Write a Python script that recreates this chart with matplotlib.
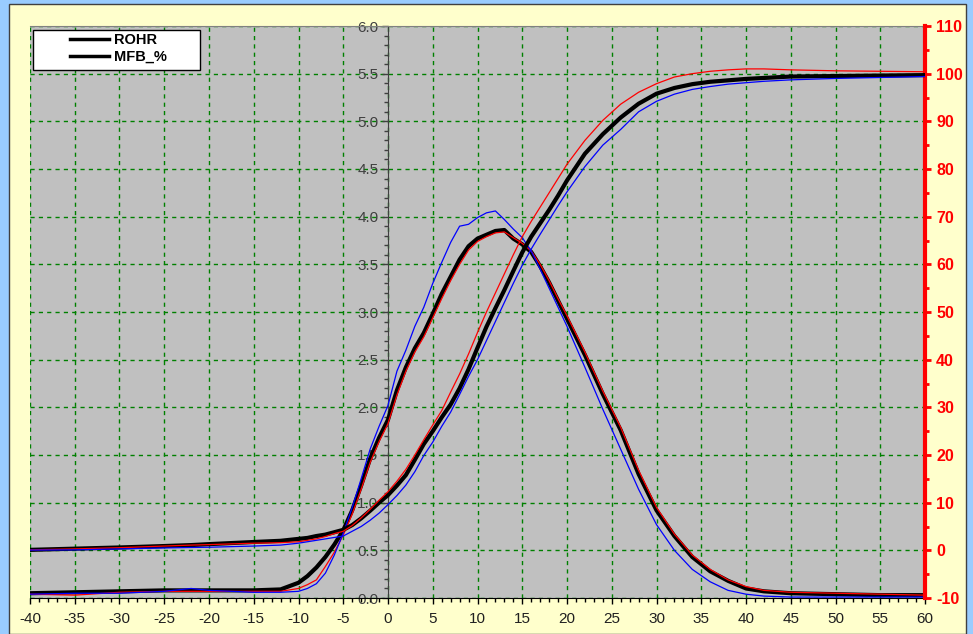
import matplotlib
matplotlib.use('Agg')
import matplotlib.pyplot as plt
from matplotlib.lines import Line2D
from matplotlib.patches import Rectangle
from matplotlib.ticker import MultipleLocator, FormatStrFormatter

plt.rcParams['font.family'] = ['Liberation Sans', 'DejaVu Sans']
plt.rcParams['axes.unicode_minus'] = False

# crank angle [deg]
angle = [-40, -35, -30, -25, -22, -20, -15, -12, -10, -9, -8, -7, -6, -5, -4, -3, -2, -1,
         0, 1, 2, 3, 4, 5, 6, 7, 8, 9, 10, 11, 12, 13, 14, 15, 16, 17, 18, 19, 20,
         22, 24, 26, 28, 30, 32, 34, 36, 38, 40, 42, 45, 50, 55, 60]

# rate of heat release (left axis)
rohr = [0.05, 0.06, 0.07, 0.08, 0.08, 0.08, 0.08, 0.09, 0.16, 0.23, 0.32, 0.43, 0.56, 0.71,
        0.92, 1.18, 1.46, 1.68, 1.87, 2.18, 2.42, 2.62, 2.78, 2.98, 3.19, 3.37, 3.55, 3.69,
        3.77, 3.81, 3.85, 3.86, 3.77, 3.71, 3.63, 3.48, 3.31, 3.12, 2.93,
        2.55, 2.14, 1.76, 1.30, 0.92, 0.65, 0.43, 0.28, 0.18, 0.10, 0.07, 0.05, 0.04, 0.03, 0.03]
rohr_red = [0.04, 0.03, 0.06, 0.07, 0.07, 0.07, 0.07, 0.07, 0.10, 0.14, 0.19, 0.33, 0.48, 0.66,
            0.88, 1.14, 1.42, 1.64, 1.83, 2.13, 2.38, 2.58, 2.74, 2.94, 3.14, 3.33, 3.50, 3.65,
            3.74, 3.79, 3.83, 3.84, 3.78, 3.72, 3.64, 3.50, 3.33, 3.14, 2.96,
            2.58, 2.17, 1.79, 1.34, 0.95, 0.67, 0.45, 0.30, 0.19, 0.12, 0.08, 0.06, 0.05, 0.04, 0.03]
rohr_blue = [0.04, 0.05, 0.05, 0.07, 0.10, 0.08, 0.06, 0.06, 0.07, 0.10, 0.15, 0.26, 0.45, 0.68,
             0.95, 1.25, 1.56, 1.80, 2.02, 2.38, 2.60, 2.85, 3.05, 3.30, 3.52, 3.73, 3.90, 3.92,
             3.99, 4.04, 4.06, 3.97, 3.87, 3.78, 3.64, 3.45, 3.25, 3.05, 2.85,
             2.42, 1.98, 1.56, 1.14, 0.77, 0.50, 0.30, 0.17, 0.08, 0.04, 0.02, 0.01, 0.01, 0.01, 0.01]

# mass fraction burned [%] (right axis)
mfb = [0.1, 0.35, 0.6, 0.9, 1.1, 1.3, 1.75, 2.0, 2.4, 2.6, 3.0, 3.3, 3.8, 4.3,
       5.3, 6.7, 8.3, 10.0, 11.6, 13.6, 15.8, 19.0, 22.3, 25.0, 27.9, 30.6, 34.0, 38.0,
       42.5, 46.9, 50.8, 54.6, 58.6, 62.5, 65.8, 68.6, 71.4, 74.4, 77.6,
       83.2, 87.3, 90.8, 93.7, 95.8, 97.0, 97.8, 98.3, 98.6, 98.9, 99.1, 99.4, 99.5, 99.6, 99.7]
mfb_red = [0.1, 0.3, 0.55, 0.9, 1.1, 1.2, 1.5, 1.6, 1.8, 2.1, 2.4, 2.9, 3.5, 4.0,
           5.2, 6.8, 8.6, 10.5, 12.3, 14.5, 17.0, 20.0, 23.2, 26.3, 29.3, 33.2, 37.0, 41.2,
           45.7, 50.0, 54.0, 58.0, 62.0, 65.8, 69.0, 72.0, 75.0, 78.0, 81.0,
           86.0, 90.2, 93.6, 96.1, 97.9, 99.3, 100.0, 100.5, 100.8, 101.0, 101.0, 100.8, 100.6, 100.5, 100.4]
mfb_blue = [0.05, 0.1, 0.3, 0.5, 0.6, 0.65, 0.9, 1.1, 1.5, 1.8, 2.1, 2.4, 2.7, 3.0,
            4.0, 5.0, 6.3, 7.8, 9.6, 11.5, 13.7, 16.5, 19.9, 22.7, 26.0, 29.0, 32.7, 36.5,
            40.0, 44.0, 48.0, 52.0, 56.0, 59.8, 63.2, 66.3, 69.3, 72.3, 75.2,
            80.5, 85.0, 88.3, 92.0, 94.2, 95.7, 96.7, 97.3, 97.8, 98.1, 98.4, 98.7, 99.0, 99.2, 99.4]

legend_labels = ['ROHR', 'MFB_%']

fig = plt.figure(figsize=(9.73, 6.34), dpi=100)
fig.patch.set_facecolor('#99ccff')
# cream panel behind the chart
fig.add_artist(Rectangle((9 / 973, 0), 957 / 973, 1 - 4 / 634, transform=fig.transFigure,
                         facecolor='#ffffcc', edgecolor='#404040', linewidth=1, zorder=0))

ax = fig.add_axes([30 / 973, 1 - 598 / 634, 895 / 973, 572 / 634])
ax.set_facecolor('#c0c0c0')
ax.set_xlim(-40, 60)
ax.set_ylim(0, 6)

# left axis sits on the TDC line
ax.spines['left'].set_position(('data', 0))
ax.spines['left'].set_color('#404040')
ax.spines['top'].set_color('#808080')
ax.spines['right'].set_visible(False)
ax.spines['bottom'].set_color('black')

ax.xaxis.set_major_locator(MultipleLocator(5))
ax.xaxis.set_minor_locator(MultipleLocator(1))
ax.yaxis.set_major_locator(MultipleLocator(0.5))
ax.yaxis.set_minor_locator(MultipleLocator(0.1))
ax.yaxis.set_major_formatter(FormatStrFormatter('%.1f'))
ax.tick_params(axis='x', which='major', length=4, width=1, labelsize=11,
               labelcolor='#202020', pad=6)
ax.tick_params(axis='x', which='minor', length=3, width=1)
ax.tick_params(axis='y', which='major', length=4, width=1, color='#404040',
               labelsize=11, labelcolor='#404040', pad=3)
ax.tick_params(axis='y', which='minor', length=3, width=1, color='#404040')

ax.grid(True, which='major', color='#008000', linestyle=(0, (3, 3)), linewidth=1)
ax.set_axisbelow(True)

ax.plot(angle, rohr, color='black', linewidth=3, zorder=3)
ax.plot(angle, rohr_red, color='#ff0000', linewidth=0.9, zorder=4)
ax.plot(angle, rohr_blue, color='#0000ff', linewidth=0.9, zorder=4)

ax2 = ax.twinx()
ax2.set_ylim(-10, 110)
ax2.yaxis.set_major_locator(MultipleLocator(10))
ax2.yaxis.set_minor_locator(MultipleLocator(5))
for side in ['left', 'top', 'bottom']:
    ax2.spines[side].set_visible(False)
ax2.spines['right'].set_color('#ff0000')
ax2.spines['right'].set_linewidth(3)
ax2.tick_params(axis='y', which='major', length=4, width=2, color='#ff0000',
                labelcolor='#ff0000', labelsize=11.5, pad=4)
ax2.tick_params(axis='y', which='minor', length=3, width=2, color='#ff0000')
for lbl in ax2.get_yticklabels():
    lbl.set_fontweight('bold')

ax2.plot(angle, mfb, color='black', linewidth=3, zorder=3)
ax2.plot(angle, mfb_red, color='#ff0000', linewidth=0.9, zorder=4)
ax2.plot(angle, mfb_blue, color='#0000ff', linewidth=0.9, zorder=4)

# legend box: white frame with the entries set in from the left
ax2.add_patch(Rectangle((3 / 895, 1 - 44 / 572), 167 / 895, 40 / 572, transform=ax2.transAxes,
                        facecolor='white', edgecolor='black', linewidth=1, zorder=6,
                        clip_on=False))
handles = [Line2D([], [], color='black', linewidth=2.5) for _ in legend_labels]
leg = ax2.legend(handles, legend_labels, loc='upper left',
                 bbox_to_anchor=(40 / 895, 1 - 7 / 572), frameon=False,
                 prop={'weight': 'bold', 'size': 10.5}, handlelength=2.7, handletextpad=0.3,
                 borderpad=0, labelspacing=0.2, borderaxespad=0)
leg.set_zorder(7)

fig.savefig('out.png', dpi=100, facecolor=fig.get_facecolor())
